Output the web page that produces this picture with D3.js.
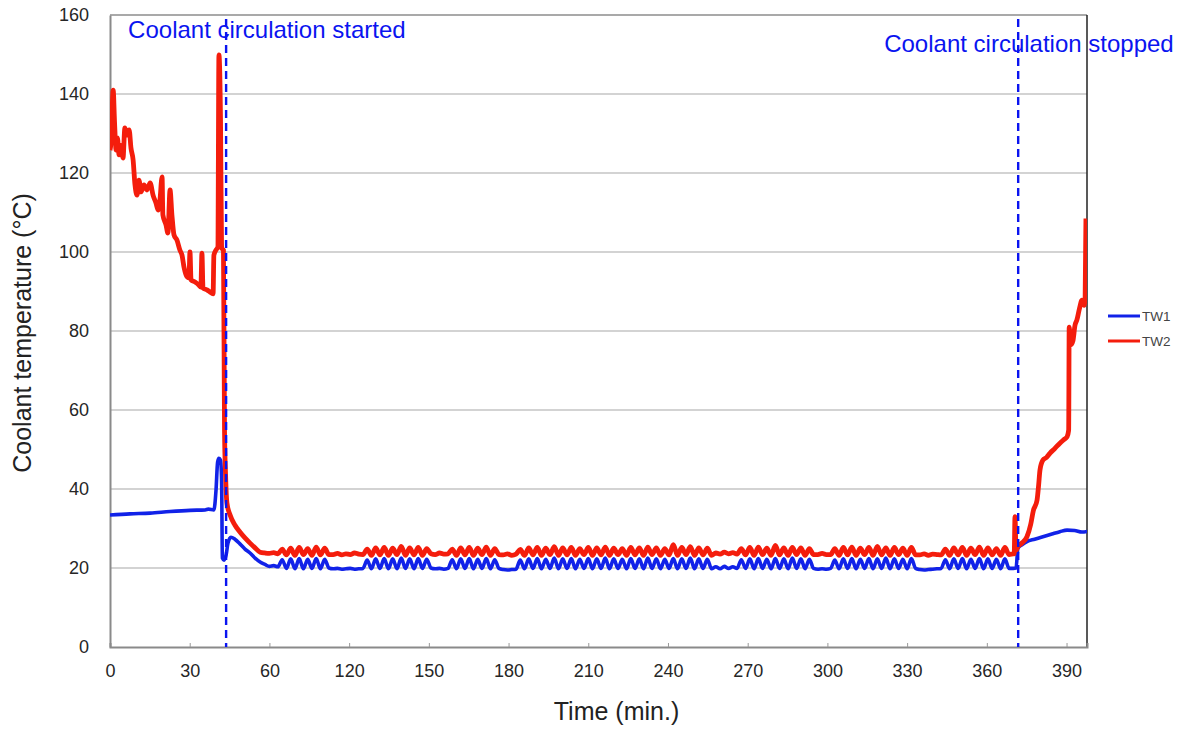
<!DOCTYPE html>
<html>
<head>
<meta charset="utf-8">
<script src="https://cdn.jsdelivr.net/npm/d3@7"></script>
<style>
  body { margin: 0; background: #fff; }
  svg { display: block; font-family: Arial, "Liberation Sans", sans-serif; }
</style>
</head>
<body>
<div id="chart"></div>
<script>
(function() {

    var w = 1182;
    var h = 729;
    var margin = {top: 15, right: 95, bottom: 82, left: 110};

    // x positions of the ticks (min.) and the labels printed under them
    var xTicks = [0, 30, 60, 90, 120, 150, 180, 210, 240, 270, 300, 330, 360];
    var xTickLabels = ["0", "30", "60", "120", "150", "180", "210", "240", "270", "300", "330", "360", "390"];
    var xMax = 367.7;
    var yTicks = [0, 20, 40, 60, 80, 100, 120, 140, 160];

    var seriesNames = ["TW1", "TW2"];
    var seriesColors = ["#1122e8", "#f41d0c"];

    var eventTimes = [43.7, 341.8];
    var eventLabels = ["Coolant circulation started", "Coolant circulation stopped"];

    // before circulation: [time, value]
    var tw1Start = [[0, 33.4], [7.5, 33.7], [15.1, 33.9], [22.6, 34.3], [30.1, 34.6], [35.8, 34.7], [37.0, 34.9],
        [39.1, 34.7], [39.9, 39.7], [40.5, 46.8], [41.0, 47.8], [41.6, 47.3], [42.0, 42.3], [42.3, 22.5],
        [42.9, 22.0], [43.7, 23.3], [44.4, 26.3], [45.5, 27.8], [47.0, 27.3], [48.9, 26.1], [50.8, 24.8],
        [52.7, 23.8], [54.6, 22.5], [56.5, 21.5], [58.3, 20.9]];

    var tw2Start = [[0, 125.8], [0.4, 128], [0.75, 135], [1.2, 141], [1.7, 133], [2.3, 125.8], [2.8, 128.9],
        [3.4, 124.6], [4.1, 127], [4.9, 123.8], [5.6, 131.4], [6.4, 129.6], [7.2, 130.9], [7.9, 126.3],
        [8.7, 123.3], [9.4, 117], [10.2, 114.4], [10.9, 118.2], [11.7, 115.2], [12.8, 117], [13.9, 115.7],
        [15.1, 117.5], [16.2, 114.4], [17.3, 112.4], [18.1, 110.6], [18.8, 113.2], [19.6, 119], [19.9, 109.4],
        [21.1, 106.8], [21.8, 104.8], [22.6, 115.7], [23.3, 109.4], [24.1, 104.3], [25.2, 103], [26.3, 100.5],
        [27.1, 99.2], [27.9, 96], [29.0, 93.7], [29.7, 93.4], [30.1, 100], [30.5, 92.9], [32.0, 92.4],
        [33.5, 91.6], [34.2, 91.1], [34.6, 99.7], [35.0, 90.9], [36.5, 90.4], [37.6, 89.9], [38.8, 89.4],
        [39.1, 99.2], [39.9, 100.5], [40.6, 101.3], [41.0, 149.9], [41.6, 133], [42.0, 101], [42.7, 100.5],
        [43.1, 54.9], [43.5, 43.5], [44.0, 36.5], [45.2, 33.4], [47.0, 30.9], [48.9, 29.1], [50.8, 27.6],
        [52.7, 26.3], [54.6, 25.1], [56.5, 24.0], [58.3, 23.8]];

    // steady circulation, logged every 1.6 min from 60 min
    var steadyStart = 60;
    var steadyStep = 1.6;

    var tw1Steady = [
        20.4, 20.6, 20.3,
        22.1, 19.9, 22.3, 19.8, 22.4, 19.8, 22.2, 19.9, 22.4, 19.8, 22.2, 20.0,
        19.8, 19.9, 19.7, 19.8, 19.9, 19.7, 19.8,
        19.9, 22.0, 19.8, 22.3, 19.9, 22.4, 19.8, 22.3, 19.8, 22.5, 19.9, 22.3, 19.8, 22.4, 19.9, 22.2,
        20.0, 19.8, 19.9, 19.7, 19.9,
        22.1, 19.8, 22.3, 19.9, 22.4, 19.8, 22.2, 19.9, 22.4, 19.8, 22.1, 19.9,
        19.6, 19.5, 19.6, 19.7,
        22.0, 19.8, 22.3, 19.9, 22.4, 19.8, 22.2, 19.9, 22.5, 19.8, 22.3, 19.9, 22.4, 19.8, 22.2, 19.9,
        22.4, 19.8, 22.3, 19.9, 22.5, 19.8, 22.3, 19.9, 22.2, 19.8, 22.4, 19.9, 22.3, 19.8, 22.5, 19.9,
        22.3, 19.8, 22.2, 19.9, 22.4, 19.8, 22.3, 19.9, 22.5, 19.8, 22.3, 19.9, 22.2, 19.8,
        20.3, 19.8, 20.4, 19.9, 20.3, 19.9,
        22.1, 19.9, 22.3, 19.8, 22.4, 19.9, 22.2, 19.8, 22.4, 19.9, 22.3, 19.8, 22.5, 19.9, 22.3, 19.8, 22.2, 19.9,
        19.7, 19.8, 19.7,
        19.9, 22.0, 19.8, 22.3, 19.9, 22.4, 19.8, 22.2, 19.9, 22.4, 19.8, 22.3, 19.9, 22.5, 19.8, 22.3, 19.9, 22.2, 19.8, 22.4, 19.9,
        19.6, 19.5, 19.6, 19.7, 19.8,
        19.9, 22.1, 19.8, 22.3, 19.9, 22.4, 19.8, 22.2, 19.9, 22.4, 19.8, 22.3, 19.9, 22.2, 19.8, 22.3, 19.9,
        19.9];

    var tw2Steady = [
        23.7, 23.9, 23.6,
        24.8, 23.3, 25.0, 23.2, 25.2, 23.4, 24.9, 23.2, 25.3, 23.3, 25.0, 23.4,
        23.4, 23.7, 23.3, 23.6, 23.4, 23.8, 23.5,
        23.4, 24.8, 23.2, 25.1, 23.3, 25.2, 23.2, 25.0, 23.4, 25.5, 23.2, 25.1, 23.3, 25.2, 23.2, 24.9,
        23.6, 23.4, 23.8, 23.5, 23.6,
        24.8, 23.2, 25.1, 23.3, 25.2, 23.2, 25.0, 23.4, 25.3, 23.2, 24.9, 23.4,
        23.3, 23.6, 23.2, 23.5,
        24.7, 23.2, 25.1, 23.3, 25.2, 23.2, 25.0, 23.4, 25.4, 23.2, 25.1, 23.3, 25.2, 23.2, 24.9, 23.4,
        25.2, 23.2, 25.1, 23.3, 25.3, 23.2, 25.0, 23.4, 24.9, 23.2, 25.2, 23.3, 25.1, 23.2, 25.3, 23.4,
        25.1, 23.2, 24.9, 23.3, 25.9, 23.2, 25.2, 23.4, 25.4, 23.2, 25.1, 23.3, 25.0, 23.2,
        23.8, 23.5, 24.0, 23.6, 23.9, 23.5,
        24.9, 23.3, 25.2, 23.2, 25.3, 23.4, 25.0, 23.2, 25.7, 23.3, 25.1, 23.2, 25.2, 23.4, 25.1, 23.2, 24.9, 23.4,
        23.4, 23.7, 23.4,
        23.4, 24.9, 23.2, 25.2, 23.3, 25.3, 23.2, 25.0, 23.4, 25.2, 23.2, 25.5, 23.3, 25.1, 23.2, 25.2, 23.4, 25.0, 23.2, 25.2, 23.3,
        23.3, 23.6, 23.2, 23.5, 23.4,
        23.3, 24.8, 23.2, 25.1, 23.3, 25.2, 23.2, 25.0, 23.4, 25.3, 23.2, 25.1, 23.3, 24.9, 23.2, 25.2, 23.4,
        23.6];

    // after circulation stopped: [time, value]
    var tw1End = [[341.0, 20.0], [341.7, 25.0], [343.5, 26.0], [345.1, 26.7], [348.0, 27.3], [351.1, 27.9],
        [354.5, 28.6], [357.5, 29.2], [360.2, 29.6], [363.0, 29.5], [365.8, 29.1], [368.1, 29.3]];

    var tw2End = [[340.3, 23.6], [340.6, 33.0], [341.0, 24.5], [341.7, 25.4], [343.0, 26.2], [345.1, 27.9],
        [346.5, 31.0], [347.5, 34.5], [348.9, 37.2], [349.5, 41.0], [350.0, 44.8], [351.1, 47.3],
        [352.5, 48.0], [353.8, 49.1], [355.5, 50.2], [357.5, 51.6], [359.0, 52.5], [360.2, 53.2],
        [360.8, 54.9], [361.0, 81.0], [361.6, 76.5], [362.4, 77.5], [363.2, 81.5], [363.9, 82.8],
        [364.8, 85.5], [365.8, 87.8], [366.6, 86.5], [367.0, 88.6], [367.3, 108.5]];

    function buildSeries(start, steady, end) {
        var pts = start.slice();
        for (var i = 0; i < steady.length; i++) {
            pts.push([steadyStart + i * steadyStep, steady[i]]);
        }
        return pts.concat(end);
    }

    var series = [
        buildSeries(tw1Start, tw1Steady, tw1End),
        buildSeries(tw2Start, tw2Steady, tw2End)
    ];

    var svg = d3.select("#chart")
        .append("svg")
        .attr("width", w)
        .attr("height", h);

    var x = d3.scaleLinear().domain([0, xMax]).range([margin.left, w - margin.right]);
    var y = d3.scaleLinear().domain([0, 160]).range([h - margin.bottom, margin.top]);

    svg.append("clipPath")
        .attr("id", "plotClip")
        .append("rect")
        .attr("x", x(0))
        .attr("y", y(160))
        .attr("width", x(xMax) - x(0))
        .attr("height", y(0) - y(160));

    // grid lines
    svg.append("g")
        .selectAll("line")
        .data(yTicks.slice(1, -1))
        .enter()
        .append("line")
        .attr("x1", x(0))
        .attr("x2", x(xMax))
        .attr("y1", function(d) { return y(d); })
        .attr("y2", function(d) { return y(d); })
        .attr("stroke", "#c4c4c4")
        .attr("stroke-width", 1.6);

    // top and right frame
    svg.append("line")
        .attr("x1", x(0)).attr("x2", x(xMax))
        .attr("y1", y(160)).attr("y2", y(160))
        .attr("stroke", "#555").attr("stroke-width", 1.2);
    svg.append("line")
        .attr("x1", x(xMax)).attr("x2", x(xMax))
        .attr("y1", y(160)).attr("y2", y(0))
        .attr("stroke", "#222").attr("stroke-width", 1.5);

    // axes
    var xAxis = d3.axisBottom(x)
        .tickValues(xTicks)
        .tickFormat(function(d, i) { return xTickLabels[i]; })
        .tickSize(-4)
        .tickPadding(17);

    var gx = svg.append("g")
        .attr("transform", "translate(0," + y(0) + ")")
        .call(xAxis);

    var yAxis = d3.axisLeft(y)
        .tickValues(yTicks)
        .tickSize(0)
        .tickPadding(21);

    var gy = svg.append("g")
        .attr("transform", "translate(" + x(0) + ",0)")
        .call(yAxis);

    gx.select(".domain").attr("stroke", "#8a8a8a").attr("stroke-width", 2);
    gy.select(".domain").attr("stroke", "#8a8a8a").attr("stroke-width", 2);
    gx.selectAll(".tick line").attr("stroke", "#999");
    gx.selectAll("text").attr("font-size", 18).attr("fill", "#262626");
    gy.selectAll("text").attr("font-size", 18).attr("fill", "#262626");

    // data lines
    var line = d3.line()
        .curve(d3.curveMonotoneX)
        .x(function(d) { return x(d[0]); })
        .y(function(d) { return y(d[1]); });

    svg.append("g")
        .attr("clip-path", "url(#plotClip)")
        .selectAll("path")
        .data(series)
        .enter()
        .append("path")
        .attr("d", line)
        .attr("fill", "none")
        .attr("stroke", function(d, i) { return seriesColors[i]; })
        .attr("stroke-width", function(d, i) { return i === 0 ? 3.6 : 4.8; })
        .attr("stroke-linejoin", "round");

    // event markers
    svg.append("g")
        .selectAll("line")
        .data(eventTimes)
        .enter()
        .append("line")
        .attr("x1", function(d) { return x(d); })
        .attr("x2", function(d) { return x(d); })
        .attr("y1", y(160) + 4)
        .attr("y2", y(0))
        .attr("stroke", "#0a14f0")
        .attr("stroke-width", 2.4)
        .attr("stroke-dasharray", "8,5");

    var labelOffsets = [[-98, 23], [-134, 37]];
    svg.append("g")
        .selectAll("text")
        .data(eventTimes)
        .enter()
        .append("text")
        .attr("x", function(d, i) { return x(d) + labelOffsets[i][0]; })
        .attr("y", function(d, i) { return y(160) + labelOffsets[i][1]; })
        .attr("font-size", 24)
        .attr("fill", "#0a14f0")
        .text(function(d, i) { return eventLabels[i]; });

    // legend
    var legend = svg.append("g")
        .selectAll("g")
        .data(seriesNames)
        .enter()
        .append("g")
        .attr("transform", function(d, i) { return "translate(1108," + (316 + i * 25) + ")"; });

    legend.append("line")
        .attr("x1", 0).attr("x2", 32)
        .attr("stroke", function(d, i) { return seriesColors[i]; })
        .attr("stroke-width", 3);

    legend.append("text")
        .attr("x", 34)
        .attr("dy", "0.35em")
        .attr("font-size", 13.5)
        .attr("fill", "#444")
        .text(function(d) { return d; });

    // axis titles
    svg.append("text")
        .attr("x", (x(0) + x(xMax)) / 2 + 18)
        .attr("y", 720)
        .attr("text-anchor", "middle")
        .attr("font-size", 25)
        .attr("fill", "#222")
        .text("Time (min.)");

    svg.append("text")
        .attr("transform", "translate(31,333) rotate(-90)")
        .attr("text-anchor", "middle")
        .attr("font-size", 25)
        .attr("fill", "#222")
        .text("Coolant temperature (\u00b0C)");

})();
</script>
</body>
</html>
